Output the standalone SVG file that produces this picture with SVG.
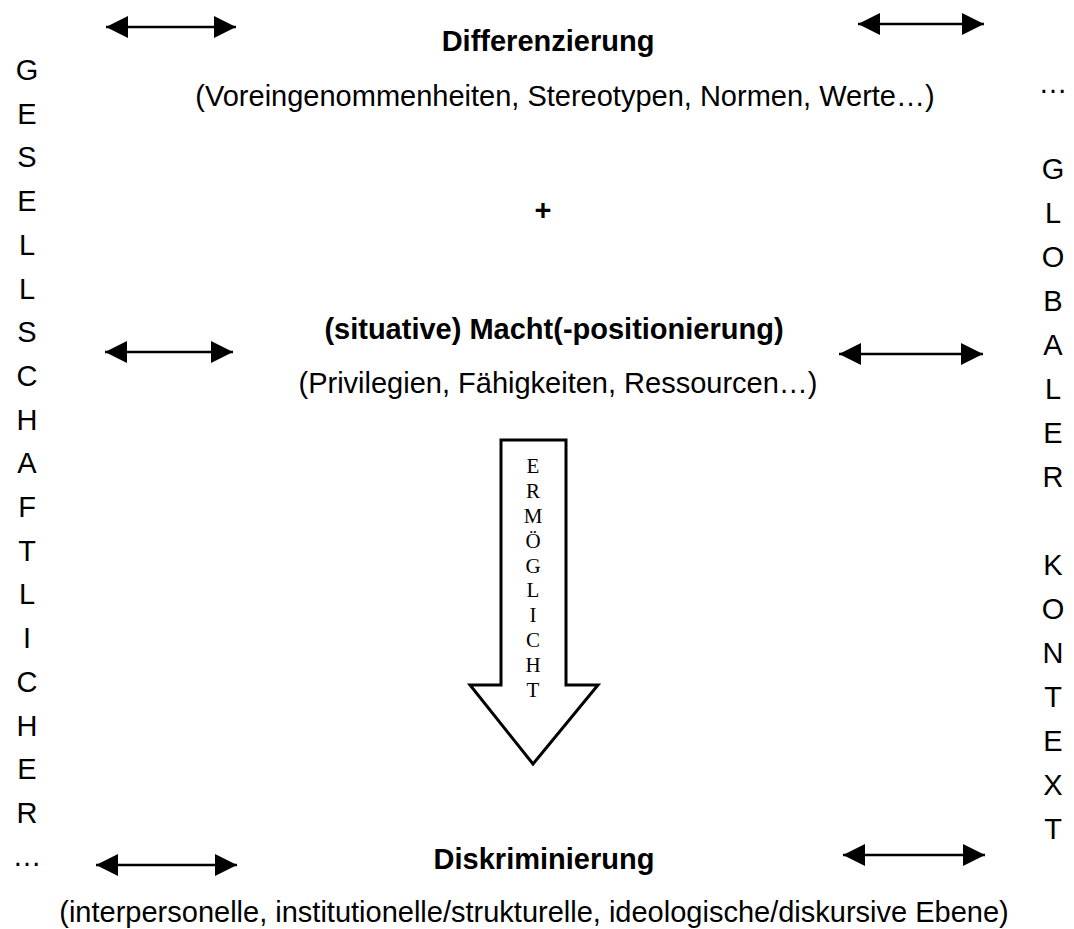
<svg xmlns="http://www.w3.org/2000/svg" width="1074" height="929" viewBox="0 0 1074 929">
<style>
.t{font-family:"Liberation Sans",Arial,sans-serif;font-size:29px;fill:#000;text-anchor:middle}
.b{font-weight:bold}
.s{font-family:"Liberation Serif","Times New Roman",serif;font-size:21px;fill:#000;text-anchor:middle}
.col{font-family:"Liberation Sans",Arial,sans-serif;font-size:29px;fill:#000;text-anchor:middle}
.dbl{stroke:#000;stroke-width:2.6;fill:none;marker-start:url(#ah);marker-end:url(#ah)}
</style>
<defs>
<marker id="ah" markerUnits="userSpaceOnUse" markerWidth="23" markerHeight="23" refX="22" refY="11" orient="auto-start-reverse">
<path d="M0,0 L22,11 L0,22 z" fill="#000"/>
</marker>
</defs>
<rect width="1074" height="929" fill="#fff"/>
<g id="connectors">
<line class="dbl" x1="106" y1="27" x2="236" y2="27"/>
<line class="dbl" x1="858" y1="24" x2="984" y2="24"/>
<line class="dbl" x1="105" y1="352" x2="233" y2="352"/>
<line class="dbl" x1="839" y1="354" x2="983" y2="354"/>
<line class="dbl" x1="96" y1="865" x2="237" y2="865"/>
<line class="dbl" x1="843" y1="855" x2="985" y2="855"/>
</g>
<g id="differenzierung">
<text class="t b" x="548" y="51">Differenzierung</text>
<text class="t" x="565" y="106">(Voreingenommenheiten, Stereotypen, Normen, Werte…)</text>
</g>
<g id="plus">
<text class="t b" x="543" y="220">+</text>
</g>
<g id="macht">
<text class="t b" x="554" y="339">(situative) Macht(-positionierung)</text>
<text class="t" x="558" y="393">(Privilegien, Fähigkeiten, Ressourcen…)</text>
</g>
<g id="ermoeglicht">
<polygon points="501,440 566,440 566,685 598,685 533,764 470,685 501,685" fill="#fff" stroke="#000" stroke-width="3"/>
<text class="s" x="533" y="473">E</text>
<text class="s" x="533" y="498">R</text>
<text class="s" x="533" y="523">M</text>
<text class="s" x="533" y="548">Ö</text>
<text class="s" x="533" y="573">G</text>
<text class="s" x="533" y="597">L</text>
<text class="s" x="533" y="622">I</text>
<text class="s" x="533" y="647">C</text>
<text class="s" x="533" y="672">H</text>
<text class="s" x="533" y="697">T</text>
</g>
<g id="diskriminierung">
<text class="t b" x="544" y="869">Diskriminierung</text>
<text class="t" x="534" y="922">(interpersonelle, institutionelle/strukturelle, ideologische/diskursive Ebene)</text>
</g>
<g id="gesellschaftlicher">
<text class="col" x="27" y="80">G</text>
<text class="col" x="27" y="123.7">E</text>
<text class="col" x="27" y="167.4">S</text>
<text class="col" x="27" y="211.1">E</text>
<text class="col" x="27" y="254.8">L</text>
<text class="col" x="27" y="298.5">L</text>
<text class="col" x="27" y="342.2">S</text>
<text class="col" x="27" y="385.9">C</text>
<text class="col" x="27" y="429.6">H</text>
<text class="col" x="27" y="473.3">A</text>
<text class="col" x="27" y="517">F</text>
<text class="col" x="27" y="560.7">T</text>
<text class="col" x="27" y="604.4">L</text>
<text class="col" x="27" y="648.1">I</text>
<text class="col" x="27" y="691.8">C</text>
<text class="col" x="27" y="735.5">H</text>
<text class="col" x="27" y="779.2">E</text>
<text class="col" x="27" y="822.9">R</text>
<text class="col" x="27" y="866">…</text>
</g>
<g id="globaler-kontext">
<text class="col" x="1053" y="93">…</text>
<text class="col" x="1053" y="179">G</text>
<text class="col" x="1053" y="223">L</text>
<text class="col" x="1053" y="267">O</text>
<text class="col" x="1053" y="311">B</text>
<text class="col" x="1053" y="355">A</text>
<text class="col" x="1053" y="399">L</text>
<text class="col" x="1053" y="443">E</text>
<text class="col" x="1053" y="487">R</text>
<text class="col" x="1053" y="575">K</text>
<text class="col" x="1053" y="619">O</text>
<text class="col" x="1053" y="663">N</text>
<text class="col" x="1053" y="707">T</text>
<text class="col" x="1053" y="751">E</text>
<text class="col" x="1053" y="795">X</text>
<text class="col" x="1053" y="839">T</text>
</g>
</svg>
